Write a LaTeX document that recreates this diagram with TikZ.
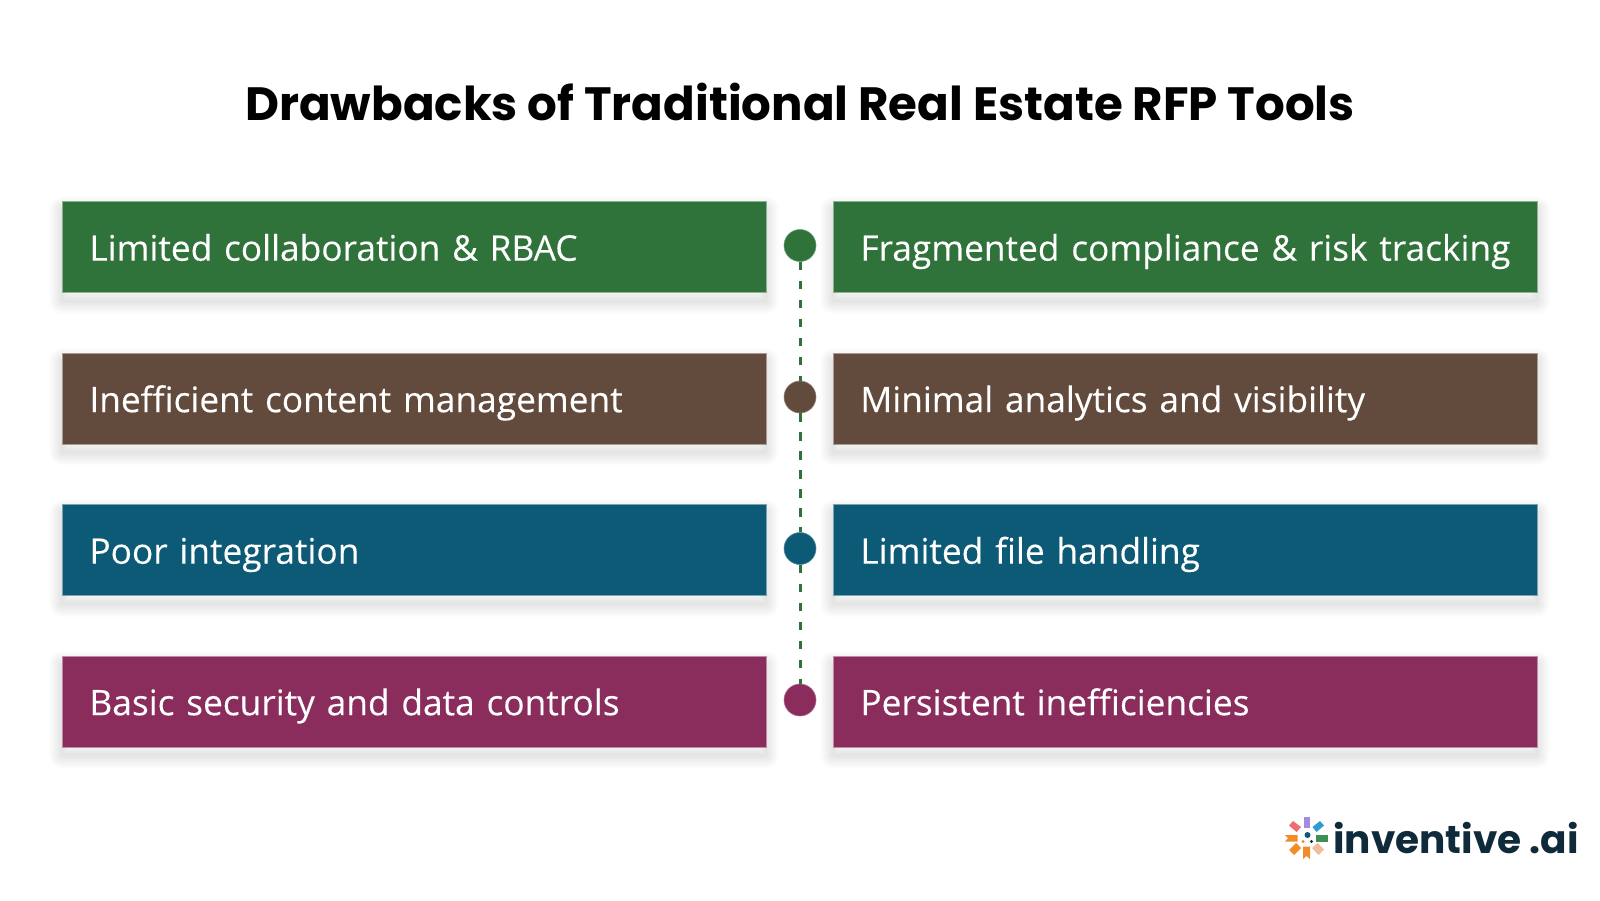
\documentclass[tikz,border=0pt]{standalone}
\usepackage{fontspec}
\setmainfont[FakeBold=0.15]{Open Sans}
\newfontfamily\titlefont{Poppins}
\newfontfamily\logofont{Poppins}
\definecolor{cgreen}{HTML}{2F723A}
\definecolor{cbrown}{HTML}{624B3D}
\definecolor{cblue}{HTML}{0C5A75}
\definecolor{cpurple}{HTML}{8A2C5C}
\definecolor{cink}{HTML}{0F2A3A}
\definecolor{lp}{HTML}{A48BDD}
\definecolor{lg}{HTML}{3F8F55}
\definecolor{lo}{HTML}{F28C28}
\definecolor{lr}{HTML}{EE6F72}
\definecolor{lb}{HTML}{2F9BD0}
\definecolor{ls}{HTML}{EFBE9E}
\tikzset{
  x=1pt,y=-1pt,
  sh/.style={preaction={draw=black,draw opacity=.011,fill=none,line width=#1,line join=round,transform canvas={yshift=-8pt}}},
  softshadow/.style={sh=2pt,sh=5pt,sh=8pt,sh=11pt,sh=14pt,sh=17pt,sh=20pt,sh=23pt,sh=26pt},
  rowbox/.style={softshadow,anchor=north west,fill=#1,draw=#1!55!white,line width=.8pt,minimum height=91pt,
    text width=649.5pt,inner xsep=27pt,inner ysep=0pt,align=left,text=white,
    font=\fontsize{35.3}{40}\selectfont,text height=30pt,text depth=3pt},
  dotnode/.style={circle,fill=#1,draw=#1!70!white,line width=.6pt,minimum size=32pt,inner sep=0pt},
  link/.style={draw=cgreen,line width=3pt,dash pattern=on 8.5pt off 10.5pt},
}
\begin{document}
\begin{tikzpicture}
\useasboundingbox[fill=white] (0,0) rectangle (1600,900);
\node[anchor=base,font=\titlefont\bfseries\fontsize{46.7}{54}\selectfont,text=black,inner sep=0] (title) at (800,120) {Drawbacks of Traditional Real Estate RFP Tools};

\node[rowbox=cgreen] (l1) at (62,201.3) {\mbox{Limited collaboration \& RBAC}};
\node[rowbox=cgreen] (r1) at (833,201.3) {\mbox{Fragmented compliance \& risk tracking}};
\node[rowbox=cbrown] (l2) at (62,352.8) {\mbox{Inefficient content management}};
\node[rowbox=cbrown] (r2) at (833,352.8) {\mbox{Minimal analytics and visibility}};
\node[rowbox=cblue] (l3) at (62,504.3) {\mbox{Poor integration}};
\node[rowbox=cblue] (r3) at (833,504.3) {\mbox{Limited file handling}};
\node[rowbox=cpurple] (l4) at (62,655.8) {\mbox{Basic security and data controls}};
\node[rowbox=cpurple] (r4) at (833,655.8) {\mbox{Persistent inefficiencies}};

\node[dotnode=cgreen] (d1) at (800,245.5) {};
\node[dotnode=cbrown] (d2) at (800,397) {};
\node[dotnode=cblue] (d3) at (800,548.5) {};
\node[dotnode=cpurple] (d4) at (800,700) {};
\draw[link] (d1.south) -- (d2.north);
\draw[link] (d2.south) -- (d3.north);
\draw[link] (d3.south) -- (d4.north);

% logo mark
\fill[lp] (1303.5,816.5) rectangle (1310,828);
\fill[lg] (1315.5,835) rectangle (1327.5,841.5);
\fill[lo] (1285,835) -- (1297.5,835) -- (1297.5,841.5) -- (1285,841.5) -- (1288,838.2) -- cycle;
\fill[lo] (1303,846.5) -- (1310,846.5) -- (1310,859) -- (1306.5,856) -- (1303,859) -- cycle;
\fill[lr] (1293,821) -- (1301,827) -- (1296.5,832) -- (1289,825.5) -- cycle;
\fill[lb] (1312.5,827) -- (1320,821) -- (1324,825.5) -- (1316.5,832) -- cycle;
\fill[lo] (1289,850) -- (1296,843) -- (1301,848) -- (1294,855) -- cycle;
\fill[ls] (1312,848) -- (1317.5,843) -- (1324,849.5) -- (1318.5,855) -- cycle;
\fill[cblue] (1307.5,835) circle (3);
\fill[lo] (1303,841.5) circle (1.6);
\fill[cink] (1311.5,841.5) circle (1.6);
\node[anchor=base west,inner sep=0,font=\logofont\bfseries\fontsize{39}{46}\selectfont,text=cink] (logo) at (1333,853.5) {inventive .ai};
\end{tikzpicture}
\end{document}
